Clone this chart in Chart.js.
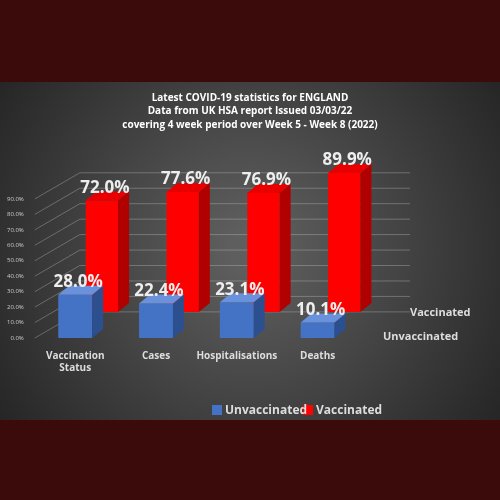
<!DOCTYPE html>
<html><head><meta charset="utf-8">
<script src="https://cdn.jsdelivr.net/npm/chart.js@4.4.0/dist/chart.umd.min.js"></script>
<style>html,body{margin:0;padding:0;background:#3b0a0a}#w{width:500px;height:500px}</style>
</head><body><div id="w"><canvas id="c"></canvas></div>
<script>
const categories = [["Vaccination","Status"],"Cases","Hospitalisations","Deaths"];
const unvaccinated = [28.0, 22.4, 23.1, 10.1];
const vaccinated = [72.0, 77.6, 76.9, 89.9];
const yTicks = [0,10,20,30,40,50,60,70,80,90];
const titleLines = ["Latest COVID-19 statistics for ENGLAND","Data from UK HSA report Issued 03/03/22","covering 4 week period over Week 5 - Week 8 (2022)"];

const faces = {
  id:'faces',
  beforeDraw(ch){
    const c=ch.ctx;c.save();
    c.fillStyle='#3b0a0a';c.fillRect(0,0,500,500);
    const g=c.createRadialGradient(250,250,20,250,250,300);
    g.addColorStop(0,'#5e5e5e');g.addColorStop(1,'#262626');
    c.fillStyle=g;c.fillRect(0,82,500,338);
    c.fillStyle='#fff';c.font='bold 10px "Open Sans", sans-serif';c.textAlign='center';c.textBaseline='middle';
    titleLines.forEach((t,i)=>c.fillText(t,250,98+i*13.5));
    const y2=ch.scales.y2, y=ch.scales.y, a=ch.chartArea;
    c.strokeStyle='rgba(200,200,200,0.35)';c.lineWidth=1;
    yTicks.forEach(v=>{const py=y2.getPixelForValue(v), qy=y.getPixelForValue(v);
      c.beginPath();c.moveTo(a.left,qy);c.lineTo(a.left+45,py);c.lineTo(410,py);c.stroke();});
    c.restore();
  },
  afterDatasetDraw(ch,args){
    const c=ch.ctx, i=args.index, meta=args.meta;
    const side = i===0?'#2c4f8f':'#b00000', top=i===0?'#6a92dc':'#e80000';
    const dx=11, dy=-9;
    c.save();
    meta.data.forEach((b,k)=>{
      const l=b.x-b.width/2, r=b.x+b.width/2, t=b.y, bs=b.base;
      c.fillStyle=side;c.beginPath();c.moveTo(r,t);c.lineTo(r+dx,t+dy);c.lineTo(r+dx,bs+dy);c.lineTo(r,bs);c.closePath();c.fill();
      c.fillStyle=top;c.beginPath();c.moveTo(l,t);c.lineTo(l+dx,t+dy);c.lineTo(r+dx,t+dy);c.lineTo(r,t);c.closePath();c.fill();
      const v = ch.data.datasets[i].data[k]; const val = typeof v==='object'?v.y:v;
      c.fillStyle='#eeeeee';c.font='bold 17px "Open Sans", sans-serif';c.textAlign='center';c.textBaseline='bottom';
      c.fillText(val.toFixed(1)+'%', b.x+3, t-4);
    });
    c.restore();
  },
  afterDraw(ch){
    const c=ch.ctx;c.save();
    c.fillStyle='#dddddd';c.font='bold 11px "Open Sans", sans-serif';c.textBaseline='middle';c.textAlign='left';
    c.fillText('Vaccinated',410,313);c.fillText('Unvaccinated',383,337);
    c.font='bold 12px "Open Sans", sans-serif';
    c.fillStyle='#4472c4';c.fillRect(212,405,10,10);
    c.fillStyle='#ff0000';c.fillRect(303,405,10,10);
    c.fillStyle='#dddddd';c.fillText('Unvaccinated',225,411);c.fillText('Vaccinated',316,411);
    c.restore();
  }
};

const ctx=document.getElementById('c');
new Chart(ctx,{
  type:'bar',
  data:{labels:categories,datasets:[
    {label:'Unvaccinated',data:unvaccinated,backgroundColor:'#4472c4',xAxisID:'x',yAxisID:'y',barPercentage:0.42,categoryPercentage:1,grouped:false,clip:false},
    {label:'Vaccinated',data:vaccinated.map((v,i)=>({x:i,y:v})),backgroundColor:'#ff0000',xAxisID:'x2',yAxisID:'y2',barPercentage:0.4,categoryPercentage:1,grouped:false,clip:false}
  ]},
  options:{
    responsive:true,maintainAspectRatio:false,animation:false,
    layout:{padding:{left:4,right:142,top:168,bottom:122}},
    plugins:{legend:{display:false},tooltip:{enabled:false}},
    scales:{
      x:{grid:{display:false},border:{display:false},ticks:{color:'#dddddd',padding:4,font:{family:'"Open Sans", sans-serif',size:10,weight:'bold'},maxRotation:0,autoSkip:false}},
      x2:{type:'linear',display:false,min:-0.5-0.33,max:3.5-0.33,offset:false},
      y:{min:0,max:110,afterBuildTicks(a){a.ticks=yTicks.map(v=>({value:v}));},
        grid:{display:false},border:{display:false},
        ticks:{color:'#cccccc',font:{family:'"Open Sans", sans-serif',size:6},callback:v=>v.toFixed(1)+'%'}},
      y2:{display:false,min:-16.9,max:93.1}
    }
  },
  plugins:[faces]
});
</script></body></html>
